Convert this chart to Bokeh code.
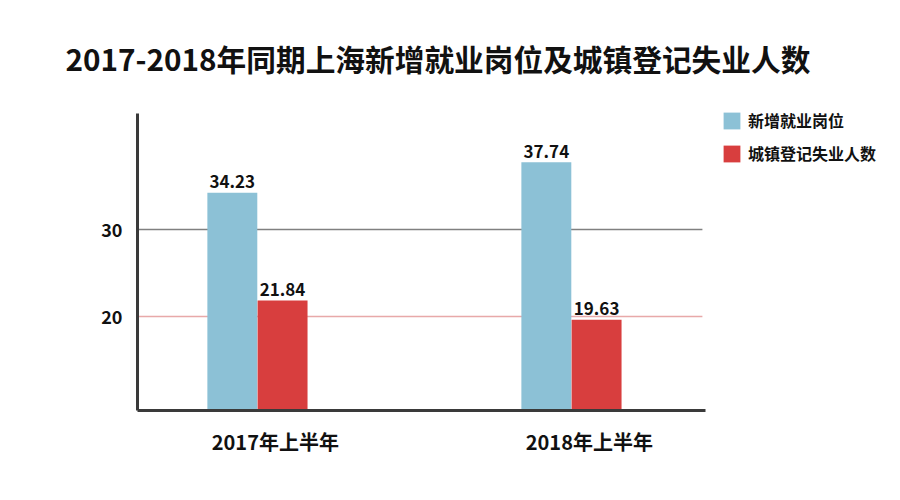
from bokeh.embed import file_html
from bokeh.resources import INLINE
from bokeh.models import (ColumnDataSource, Range1d, FixedTicker,
                          Legend, LegendItem)
from bokeh.plotting import figure
from bokeh.transform import dodge

categories = ["2017年上半年", "2018年上半年"]
series_names = ["新增就业岗位", "城镇登记失业人数"]
new_jobs = [34.23, 37.74]
unemployed = [21.84, 19.63]
y_ticks = [20, 30]

FONT = "Noto Sans CJK SC"
BLUE = "#8cc1d6"
RED = "#d83e3e"
AXIS = "#3a3a3a"

# the frame reaches into the legend area; axes and grid stop short of it
x_start, x_end, x_frame_end = -0.382, 1.427, 2.016
y_start, y_end, y_frame_end = 9.2, 43.3, 45.4

xs = list(range(len(categories)))
source = ColumnDataSource(data=dict(
    x=xs,
    jobs=new_jobs,
    unemp=unemployed,
    jobs_txt=["%.2f" % v for v in new_jobs],
    unemp_txt=["%.2f" % v for v in unemployed],
))

p = figure(width=900, height=500, output_backend="svg", toolbar_location=None,
           tools="", title="2017-2018年同期上海新增就业岗位及城镇登记失业人数",
           x_range=Range1d(x_start, x_frame_end),
           y_range=Range1d(y_start, y_frame_end),
           min_border_left=137, min_border_right=10,
           min_border_top=95, min_border_bottom=90)
p.outline_line_color = None
p.background_fill_color = "white"
p.border_fill_color = "white"
p.grid.visible = False

p.title.text_font = FONT
p.title.text_font_size = "29.7px"
p.title.text_font_style = "bold"
p.title.text_color = "#111111"
p.title.align = "left"
p.title.offset = -72
p.title.standoff = 32

# grid lines at the ticks
grid = ColumnDataSource(data=dict(y=y_ticks, color=["#e8a9a9", "#808080"]))
p.segment(x0=x_start, x1=x_end - 0.01, y0="y", y1="y", line_color="color",
          line_width=1.6, source=grid)

bar_w = 0.159
r1 = p.vbar(x=dodge("x", -0.08, range=p.x_range), top="jobs", bottom=0,
            width=bar_w, source=source, fill_color=BLUE, line_color=None)
r2 = p.vbar(x=dodge("x", 0.08, range=p.x_range), top="unemp", bottom=0,
            width=bar_w, source=source, fill_color=RED, line_color=None)

for col, off in (("jobs", -0.08), ("unemp", 0.08)):
    p.text(x=dodge("x", off, range=p.x_range), y=col, text=col + "_txt",
           source=source, text_align="center", text_baseline="alphabetic",
           y_offset=-11, text_font={"value": FONT}, text_font_style="bold",
           text_font_size="17px", text_color="#111111")

# axes
label_shift = 0.057
tick_pos = [x + label_shift for x in xs]
p.xaxis.ticker = FixedTicker(ticks=tick_pos)
p.xaxis.major_label_overrides = {t: c for t, c in zip(tick_pos, categories)}
p.xaxis.bounds = (x_start, x_end)
p.yaxis.ticker = FixedTicker(ticks=y_ticks)
p.yaxis.bounds = (y_start, y_end)
for ax in (p.xaxis, p.yaxis):
    ax.axis_line_color = AXIS
    ax.axis_line_width = 3
    ax.major_tick_line_color = None
    ax.minor_tick_line_color = None
    ax.major_label_text_font = FONT
    ax.major_label_text_font_style = "bold"
    ax.major_label_text_color = "#111111"
p.xaxis.major_label_text_font_size = "20px"
p.xaxis.major_label_standoff = 10
p.yaxis.major_label_text_font_size = "18px"
p.yaxis.major_label_standoff = 9

legend = Legend(items=[LegendItem(label=series_names[0], renderers=[r1]),
                       LegendItem(label=series_names[1], renderers=[r2])],
                location=(584, 245), glyph_width=21, glyph_height=21,
                label_height=21, spacing=9, label_standoff=6,
                padding=0, margin=0, border_line_color=None,
                background_fill_alpha=0, label_text_font=FONT,
                label_text_font_style="bold", label_text_font_size="16px",
                label_text_color="#111111")
p.add_layout(legend)

open("out.html", "w").write(file_html(p, INLINE))
